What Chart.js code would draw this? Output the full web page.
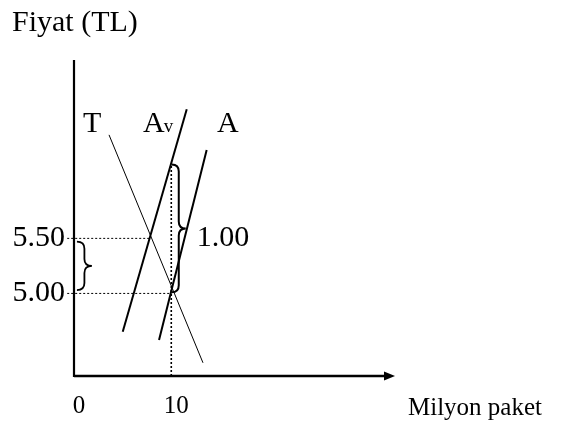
<!DOCTYPE html>
<html>
<head>
<meta charset="utf-8">
<script src="https://cdn.jsdelivr.net/npm/chart.js@4.4.1/dist/chart.umd.min.js"></script>
<style>
  html, body { margin: 0; padding: 0; background: #fff; }
  #wrap { width: 573px; height: 421px; position: relative; }
</style>
</head>
<body>
<div id="wrap"><canvas id="c" width="573" height="421"></canvas></div>
<script>
// ---- data (quantity in million packs, price in TL) ----
const xTickValues = [0, 10];
const yTickValues = [5.00, 5.50];
const demandT_X = [3.60, 13.26];
const demandT_Y = [6.44, 4.37];
const supplyAv_X = [5.01, 11.59];
const supplyAv_Y = [4.652, 6.672];
const supplyA_X = [8.74, 13.64];
const supplyA_Y = [4.577, 6.303];
const guide550_X = [-0.7, 7.81];
const guide550_Y = [5.50, 5.50];
const guide500_X = [-0.7, 10];
const guide500_Y = [5.00, 5.00];
const guideQ_X = [10, 10];
const guideQ_Y = [4.25, 6.18];
const taxBrace = [10.05, 5.01, 6.17];   // x, lower price, upper price
const diffBrace = [0.3, 5.03, 5.47];
const taxLabel = '1.00';
const curveLabels = ['T', 'A', 'A'];
const curveLabelX = [0.93, 7.09, 14.7];
const curveLabelY = [6.466, 6.466, 6.466];

const pts = (xs, ys) => xs.map((x, i) => ({ x, y: ys[i] }));
const FONT = 'Liberation Serif, Times New Roman, serif';

const drawPlugin = {
  id: 'extras',
  beforeDraw(chart) {
    const c = chart.ctx;
    c.save();
    c.fillStyle = '#fff';
    c.fillRect(0, 0, chart.width, chart.height);
    c.restore();
  },
  afterDatasetsDraw(chart) {
    const c = chart.ctx;
    const xs = chart.scales.x, ys = chart.scales.y;
    const a = chart.chartArea;
    c.save();
    c.strokeStyle = '#000';
    c.fillStyle = '#000';
    // y axis
    c.lineWidth = 2.2;
    c.beginPath();
    c.moveTo(a.left, a.top);
    c.lineTo(a.left, a.bottom + 1);
    c.stroke();
    // x axis with arrow
    c.lineWidth = 2.6;
    c.beginPath();
    c.moveTo(a.left, a.bottom);
    c.lineTo(a.right - 9, a.bottom);
    c.stroke();
    c.beginPath();
    c.moveTo(a.right, a.bottom);
    c.lineTo(a.right - 11, a.bottom - 4.5);
    c.lineTo(a.right - 11, a.bottom + 4.5);
    c.closePath();
    c.fill();

    // braces
    function brace(xd, y0d, y1d, w, lw) {
      const x = xs.getPixelForValue(xd);
      const yb = ys.getPixelForValue(y0d);
      const yt = ys.getPixelForValue(y1d);
      const m = (yt + yb) / 2;
      const h = w * 0.5, r = 7;
      c.lineWidth = lw;
      c.beginPath();
      c.moveTo(x, yt);
      c.quadraticCurveTo(x + h, yt, x + h, yt + r);
      c.lineTo(x + h, m - r);
      c.quadraticCurveTo(x + h, m, x + w, m);
      c.quadraticCurveTo(x + h, m, x + h, m + r);
      c.lineTo(x + h, yb - r);
      c.quadraticCurveTo(x + h, yb, x, yb);
      c.stroke();
    }
    brace(taxBrace[0], taxBrace[1], taxBrace[2], 14, 2);
    brace(diffBrace[0], diffBrace[1], diffBrace[2], 15, 1.8);

    // labels
    c.textBaseline = 'alphabetic';
    c.textAlign = 'left';
    c.font = '30px ' + FONT;
    curveLabels.forEach((t, i) => {
      const px = xs.getPixelForValue(curveLabelX[i]);
      const py = ys.getPixelForValue(curveLabelY[i]);
      c.fillText(t, px, py);
      if (i === 1) {
        const wA = c.measureText(t).width;
        c.font = '19px ' + FONT;
        c.fillText('v', px + wA - 1, py);
        c.font = '30px ' + FONT;
      }
    });
    const lx = xs.getPixelForValue(taxBrace[0]) + 25;
    const ly = ys.getPixelForValue((taxBrace[1] + taxBrace[2]) / 2) + 18;
    c.fillText(taxLabel, lx, ly);

    // axis titles
    c.font = '30px ' + FONT;
    c.fillText('Fiyat (TL)', 12, 31);
    c.font = '25px ' + FONT;
    c.fillText('Milyon paket', 408, 415);
    c.restore();
  }
};

const lineDs = (data, width, dash, clip) => ({
  data, showLine: true, borderColor: '#000', borderWidth: width,
  borderDash: dash, pointRadius: 0, fill: false, tension: 0,
  clip: clip
});

new Chart(document.getElementById('c'), {
  type: 'scatter',
  data: {
    datasets: [
      lineDs(pts(guide550_X, guide550_Y), 1, [2, 2], false),
      lineDs(pts(guide500_X, guide500_Y), 1, [2, 2], false),
      lineDs(pts(guideQ_X, guideQ_Y), 1.6, [2, 2], false),
      lineDs(pts(demandT_X, demandT_Y), 1, [], false),
      lineDs(pts(supplyAv_X, supplyAv_Y), 2, [], false),
      lineDs(pts(supplyA_X, supplyA_Y), 2, [], false)
    ]
  },
  options: {
    responsive: false,
    animation: false,
    devicePixelRatio: 1,
    layout: { padding: { top: 60, right: 178, left: 0, bottom: 0 } },
    plugins: { legend: { display: false }, tooltip: { enabled: false }, title: { display: false } },
    scales: {
      x: {
        type: 'linear', min: 0, max: 33,
        grid: { display: false, drawTicks: false },
        border: { display: false },
        afterBuildTicks: s => { s.ticks = xTickValues.map(v => ({ value: v })); },
        afterFit: s => { s.height = 45; },
        ticks: {
          padding: 15, labelOffset: 5, color: '#000', maxRotation: 0,
          font: { family: FONT, size: 25 },
          callback: v => String(v)
        }
      },
      y: {
        type: 'linear', min: 4.25, max: 7.12,
        grid: { display: false, drawTicks: false },
        border: { display: false },
        afterBuildTicks: s => { s.ticks = yTickValues.map(v => ({ value: v })); },
        afterFit: s => { s.width = 74; },
        ticks: {
          padding: 9, color: '#000',
          font: { family: FONT, size: 30 },
          callback: v => Number(v).toFixed(2)
        }
      }
    }
  },
  plugins: [drawPlugin]
});
</script>
</body>
</html>
